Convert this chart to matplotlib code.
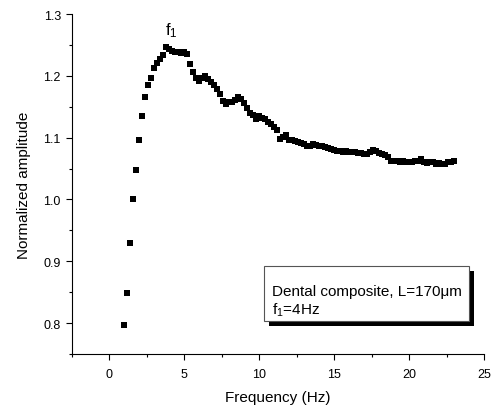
import matplotlib
matplotlib.use('Agg')
import matplotlib.pyplot as plt
from matplotlib.patches import Rectangle
from matplotlib.ticker import MultipleLocator

plt.rcParams['font.family'] = ['Liberation Sans', 'DejaVu Sans']
plt.rcParams['mathtext.fontset'] = 'custom'
plt.rcParams['mathtext.rm'] = 'Liberation Sans'
plt.rcParams['mathtext.it'] = 'Liberation Sans'

# ── data (frequency in Hz, normalized amplitude) ──
freq = [
    1.0, 1.2, 1.4, 1.6, 1.8, 2.0, 2.2, 2.4, 2.6, 2.8,
    3.0, 3.2, 3.4, 3.6, 3.8, 4.0, 4.2, 4.4, 4.6, 4.8,
    5.0, 5.2, 5.4, 5.6, 5.8, 6.0, 6.2, 6.4, 6.6, 6.8,
    7.0, 7.2, 7.4, 7.6, 7.8, 8.0, 8.2, 8.4, 8.6, 8.8,
    9.0, 9.2, 9.4, 9.6, 9.8, 10.0, 10.2, 10.4, 10.6, 10.8,
    11.0, 11.2, 11.4, 11.6, 11.8, 12.0, 12.2, 12.4, 12.6, 12.8,
    13.0, 13.2, 13.4, 13.6, 13.8, 14.0, 14.2, 14.4, 14.6, 14.8,
    15.0, 15.2, 15.4, 15.6, 15.8, 16.0, 16.2, 16.4, 16.6, 16.8,
    17.0, 17.2, 17.4, 17.6, 17.8, 18.0, 18.2, 18.4, 18.6, 18.8,
    19.0, 19.2, 19.4, 19.6, 19.8, 20.0, 20.2, 20.4, 20.6, 20.8,
    21.0, 21.2, 21.4, 21.6, 21.8, 22.0, 22.2, 22.4, 22.6, 22.8,
    23.0,
]
amplitude = [
    0.797, 0.849, 0.930, 1.001, 1.048, 1.096, 1.135, 1.166, 1.185, 1.197,
    1.212, 1.220, 1.227, 1.234, 1.246, 1.243, 1.240, 1.238, 1.239, 1.237,
    1.238, 1.236, 1.219, 1.206, 1.196, 1.191, 1.196, 1.199, 1.195, 1.190,
    1.185, 1.179, 1.170, 1.160, 1.154, 1.158, 1.157, 1.161, 1.165, 1.163,
    1.156, 1.148, 1.140, 1.136, 1.130, 1.135, 1.132, 1.130, 1.126, 1.122,
    1.118, 1.112, 1.098, 1.101, 1.104, 1.097, 1.096, 1.094, 1.093, 1.092,
    1.089, 1.086, 1.087, 1.089, 1.088, 1.087, 1.086, 1.085, 1.084, 1.082,
    1.080, 1.079, 1.078, 1.077, 1.078, 1.077, 1.076, 1.076, 1.075, 1.075,
    1.074, 1.073, 1.076, 1.080, 1.078, 1.075, 1.074, 1.072, 1.068, 1.063,
    1.062, 1.063, 1.061, 1.062, 1.061, 1.060, 1.061, 1.062, 1.062, 1.066,
    1.060, 1.059, 1.061, 1.061, 1.058, 1.059, 1.058, 1.057, 1.060, 1.061,
    1.062,
]
peak_freq = 3.7
peak_label_y = 1.267

x_ticks = [0, 5, 10, 15, 20, 25]
y_ticks = [0.8, 0.9, 1.0, 1.1, 1.2, 1.3]

fig = plt.figure(figsize=(4.92, 4.10), dpi=100)
ax = fig.add_axes([0.1463, 0.1341, 0.8375, 0.8293])

ax.plot(freq, amplitude, 's', color='black', ms=4.4, mec='black', mew=0)

ax.set_xlim(-2.5, 25)
ax.set_ylim(0.75, 1.3)
ax.set_xticks(x_ticks)
ax.set_yticks(y_ticks)
ax.set_yticklabels([f'{v:.1f}' for v in y_ticks])
ax.xaxis.set_minor_locator(MultipleLocator(2.5))
ax.yaxis.set_minor_locator(MultipleLocator(0.05))

for side in ('top', 'right'):
    ax.spines[side].set_visible(False)
for side in ('left', 'bottom'):
    ax.spines[side].set_linewidth(0.8)

ax.tick_params(which='major', direction='out', length=4, width=0.8,
               labelsize=9)
ax.tick_params(which='minor', direction='out', length=2.5, width=0.8)
ax.tick_params(axis='x', which='major', pad=6)
ax.tick_params(axis='y', which='major', pad=4)

ax.set_xlabel('Frequency (Hz)', fontsize=11, labelpad=7)
ax.set_ylabel('Normalized amplitude', fontsize=11, labelpad=9)

# peak annotation
ax.text(peak_freq, peak_label_y, r'f$_\mathregular{1}$', fontsize=12,
        ha='left', va='baseline')

# info box with drop shadow
bx0, by0, bw, bh = 264 / 492, 1 - 321.7 / 410, 205 / 492, 55 / 410
fig.patches.append(Rectangle((bx0 + 5 / 492, by0 - 5 / 410), bw, bh,
                             transform=fig.transFigure, facecolor='black',
                             edgecolor='black', lw=0, zorder=3))
fig.patches.append(Rectangle((bx0, by0), bw, bh,
                             transform=fig.transFigure, facecolor='white',
                             edgecolor='#555555', lw=0.8, zorder=4))
fig.text(272 / 492, 1 - 296 / 410, 'Dental composite, L=170\u03bcm',
         fontsize=11, ha='left', va='baseline', zorder=5)
fig.text(272 / 492, 1 - 315 / 410, r'f$_\mathregular{1}$=4Hz',
         fontsize=11, ha='left', va='baseline', zorder=5)

fig.savefig('out.png', dpi=100)
